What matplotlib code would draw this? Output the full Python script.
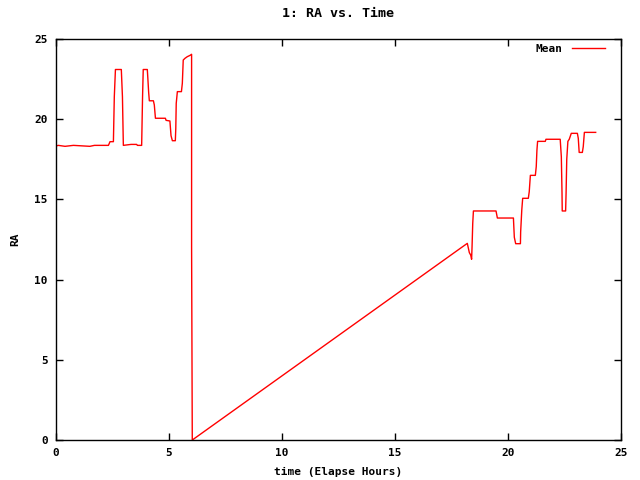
import matplotlib
matplotlib.use("Agg")
import matplotlib.pyplot as plt

# Mean RA over elapsed time (hours)
hours = [0.0, 0.1, 0.4, 0.77, 1.5, 1.7, 2.32, 2.39, 2.54, 2.58, 2.63, 2.89, 2.94, 2.98,
         3.32, 3.57, 3.6, 3.79, 3.83, 3.86, 4.04, 4.06, 4.1, 4.13, 4.31, 4.35, 4.4,
         4.84, 4.87, 5.04, 5.09, 5.15, 5.28, 5.3, 5.32, 5.37, 5.55, 5.59, 5.63, 5.71,
         5.81, 5.93, 6.0, 6.0, 6.03, 17.88, 18.2, 18.29, 18.35, 18.39, 18.41, 18.44,
         18.47, 19.47, 19.53, 20.24, 20.28, 20.34, 20.55, 20.56, 20.61, 20.65, 20.9,
         20.94, 20.99, 21.21, 21.25, 21.28, 21.31, 21.65, 21.68, 22.31, 22.36, 22.39,
         22.4, 22.55, 22.57, 22.6, 22.65, 22.71, 22.8, 23.07, 23.11, 23.15, 23.29,
         23.33, 23.38, 23.88]
ra = [18.33, 18.37, 18.31, 18.37, 18.31, 18.37, 18.37, 18.6, 18.6, 21.4, 23.1, 23.1,
      21.4, 18.37, 18.43, 18.43, 18.37, 18.37, 21.4, 23.1, 23.1, 22.65, 21.67, 21.15,
      21.15, 20.89, 20.06, 20.06, 19.93, 19.89, 18.97, 18.66, 18.66, 19.41, 20.99,
      21.72, 21.72, 22.24, 23.69, 23.8, 23.9, 23.98, 24.05, 12.06, 0.0, 11.94, 12.26,
      11.68, 11.53, 11.27, 12.06, 13.51, 14.28, 14.28, 13.84, 13.84, 12.64, 12.24,
      12.24, 12.97, 14.34, 15.07, 15.07, 15.48, 16.5, 16.5, 17.04, 18.06, 18.62,
      18.62, 18.75, 18.75, 17.66, 15.42, 14.28, 14.28, 15.37, 17.5, 18.62, 18.75,
      19.12, 19.12, 18.81, 17.93, 17.93, 18.29, 19.18, 19.18]

plt.rcParams['font.family'] = ['DejaVu Sans Mono']
plt.rcParams['font.weight'] = 'bold'
plt.rcParams['font.size'] = 8

fig = plt.figure(figsize=(6.4, 4.8), dpi=100)
ax = fig.add_axes([0.0875, 0.0833, 0.8828, 0.8354])

ax.plot(hours, ra, color='red', lw=1.0, label='Mean')

ax.set_xlim(0, 25)
ax.set_ylim(0, 25)
ax.set_xticks([0, 5, 10, 15, 20, 25])
ax.set_yticks([0, 5, 10, 15, 20, 25])
ax.tick_params(direction='in', length=5, width=1, top=True, right=True, pad=6)
for s in ax.spines.values():
    s.set_linewidth(1)

ax.set_title('1: RA vs. Time', fontweight='bold', pad=16)
ax.set_xlabel('time (Elapse Hours)', fontweight='bold', labelpad=6)
ax.set_ylabel('RA', fontweight='bold', labelpad=10)

ax.legend(loc='upper right', frameon=False, markerfirst=False, handlelength=3.0,
          borderaxespad=0.3, bbox_to_anchor=(1 - 8 / 565, 1 + 3 / 401))

fig.savefig('out.png', dpi=100)
